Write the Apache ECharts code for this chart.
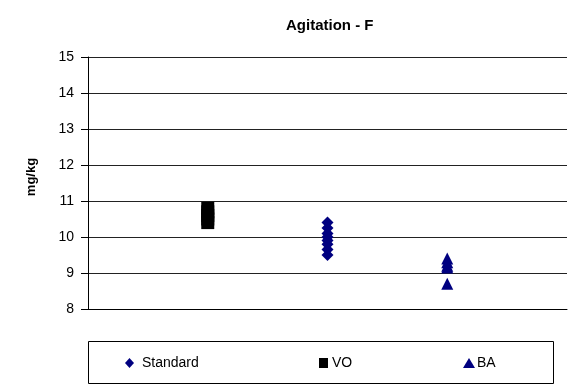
<!DOCTYPE html>
<html>
<head>
<meta charset="utf-8">
<script src="https://cdn.jsdelivr.net/npm/echarts@6/dist/echarts.min.js"></script>
<style>
html,body{margin:0;padding:0;background:#fff;}
#chart{width:569px;height:392px;}
</style>
</head>
<body>
<div id="chart"></div>
<script>
// x slots, first and last are empty padding
var slots = ['', 'VO', 'Standard', 'BA', ''];

var standardVals = [10.4, 10.25, 10.1, 10.0, 9.9, 9.8, 9.65, 9.5];
var voVals = [10.8, 10.7, 10.6, 10.5, 10.4];
var baVals = [9.4, 9.3, 9.2, 9.15, 8.7];

function pts(cat, vals) {
    return vals.map(function (v) { return [cat, v]; });
}

var myChart = echarts.init(document.getElementById('chart'));
var font = 'Arial, "Liberation Sans", sans-serif';

function legendItem(name, icon, left, w, shift) {
    return {
        data: [name], left: left, top: 356, icon: icon,
        itemWidth: w, itemHeight: 10, padding: 0,
        textStyle: {fontFamily: font, fontSize: 14, color: '#000', padding: [0, 0, 0, shift]}
    };
}

var option = {
    animation: false,
    title: {
        text: 'Agitation - F',
        left: 281,
        top: 13,
        textStyle: {fontFamily: font, fontSize: 15, fontWeight: 'bold', color: '#000'}
    },
    grid: {left: 88, right: 2, top: 57, bottom: 83},
    xAxis: {
        type: 'category',
        data: slots,
        boundaryGap: false,
        axisLine: {lineStyle: {color: '#000'}},
        axisTick: {show: false},
        axisLabel: {show: false},
        splitLine: {show: false}
    },
    yAxis: {
        type: 'value',
        min: 8, max: 15, interval: 1,
        axisLine: {show: true, lineStyle: {color: '#000'}},
        axisTick: {show: true, length: 7, lineStyle: {color: '#000'}},
        axisLabel: {fontFamily: font, fontSize: 14, color: '#000', margin: 14},
        splitLine: {lineStyle: {color: '#222'}}
    },
    legend: [
        legendItem('Standard', 'diamond', 125, 9, 3),
        legendItem('VO', 'rect', 319, 9, -1),
        legendItem('BA', 'triangle', 463, 12, -3)
    ],
    graphic: [{
        type: 'rect',
        shape: {x: 88.5, y: 341.5, width: 465, height: 42},
        style: {fill: 'none', stroke: '#000', lineWidth: 1},
        z: -1
    }, {
        type: 'text',
        x: 31, y: 177,
        rotation: Math.PI / 2,
        style: {
            text: 'mg/kg', fontFamily: font, fontSize: 13, fontWeight: 'bold',
            fill: '#000', align: 'center', verticalAlign: 'middle'
        }
    }],
    series: [
        {
            name: 'Standard', type: 'scatter', symbol: 'diamond', symbolSize: 12,
            itemStyle: {color: '#000080', opacity: 1}, data: pts('Standard', standardVals)
        },
        {
            name: 'VO', type: 'scatter', symbol: 'rect', symbolSize: 13,
            itemStyle: {color: '#000', opacity: 1}, data: pts('VO', voVals)
        },
        {
            name: 'BA', type: 'scatter', symbol: 'triangle', symbolSize: 12,
            itemStyle: {color: '#000080', opacity: 1}, data: pts('BA', baVals)
        }
    ]
};

myChart.setOption(option);
</script>
</body>
</html>
